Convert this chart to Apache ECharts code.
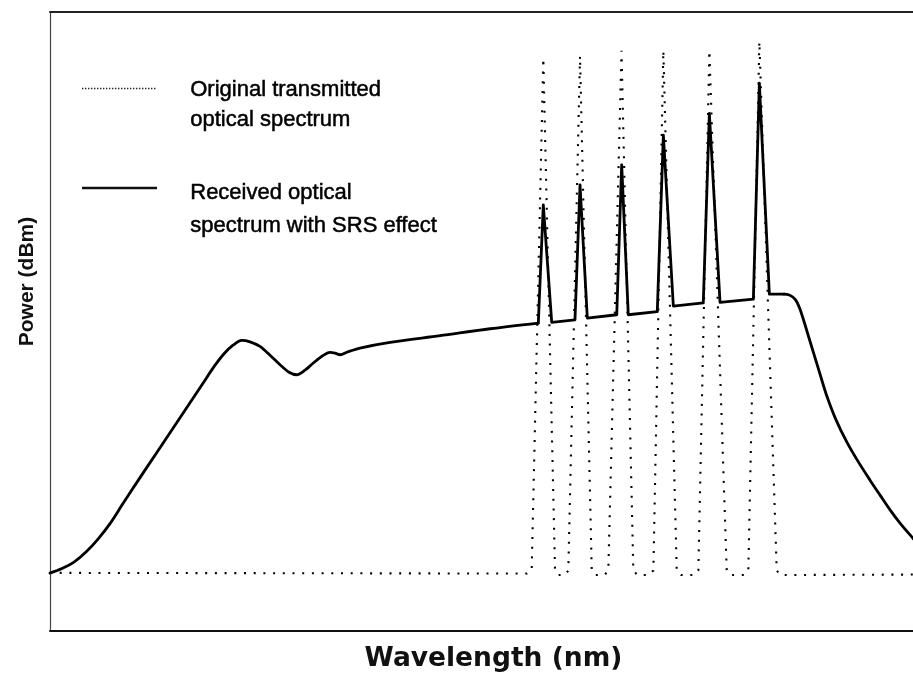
<!DOCTYPE html>
<html>
<head>
<meta charset="utf-8">
<title>SRS effect on optical spectrum</title>
<script src="https://cdn.jsdelivr.net/npm/echarts@6/dist/echarts.min.js"></script>
<style>
  html, body { margin: 0; padding: 0; background: #fff; }
  #chart { width: 913px; height: 681px; }
</style>
</head>
<body>
<div id="chart"></div>
<script>
// Wavelength axis in relative units (0 = left edge of the band)
// Power axis in relative units (0 = bottom, 100 = top)

// Original transmitted spectrum: flat floor with six narrow channels
const origX = [0, 54.95, 55.49, 56.83, 58.18, 58.58, 59.33, 59.71, 61.06, 62.41, 62.85, 63.88,
  64.32, 65.84, 67.20, 67.68, 69.01, 69.51, 70.66, 72.20, 72.70, 74.19,
  74.69, 75.96, 77.96, 78.46, 79.95, 80.45, 81.72, 83.72, 84.16, 100];
const origY = [9.39, 9.28, 9.77, 92.53, 9.77, 9.04, 9.04, 9.77, 92.9, 9.77, 9.04, 9.04,
  9.77, 93.75, 9.77, 9.04, 9.04, 9.77, 93.75, 9.77, 9.04, 9.04,
  9.77, 93.75, 9.77, 9.04, 9.04, 9.77, 95.21, 9.77, 9.04, 9.12];

// Received spectrum with SRS: smooth ASE-like rise up to the first channel
const rxRiseX = [0, 1.382, 2.765, 4.147, 5.530, 6.912, 8.295, 10.369, 12.212, 14.171, 16.129,
  17.627, 18.894, 20.046, 21.083, 22.085, 23.041, 24.194, 25.346, 26.498, 27.535, 28.422,
  29.378, 30.334, 31.336, 32.258, 32.834, 33.410, 34.332, 35.714, 39.171, 44.931, 50.691, 56.256];
const rxRiseY = [9.36, 10.09, 11.14, 12.75, 14.85, 17.35, 20.34, 24.78, 28.65, 32.77, 36.88,
  40.03, 42.70, 44.79, 46.17, 46.95, 46.72, 45.97, 44.55, 43.02, 41.81, 41.40,
  42.13, 43.29, 44.39, 45.00, 44.88, 44.63, 45.12, 45.71, 46.62, 47.70, 48.83, 49.75];

// Received channel peaks (tilted by SRS)
const rxPeakX = [56.256, 56.83, 57.80, 60.48, 61.06, 61.90, 65.29, 65.86, 66.62, 69.96, 70.66, 71.81,
  75.26, 75.96, 77.19, 81.03, 81.72, 82.87, 84.562];
const rxPeakY = [49.75, 68.85, 49.85, 50.28, 72.07, 50.56, 51.09, 75.3, 51.09, 51.6, 80.1, 52.5,
  53.0, 83.6, 53.1, 53.6, 88.5, 54.43, 54.43];

// Received roll-off beyond the last channel
const rxFallX = [84.562, 85.081, 85.634, 86.026, 86.406, 86.786, 87.327, 87.938, 88.710, 89.482,
  90.553, 91.786, 93.088, 94.470, 95.622, 96.774, 97.926, 99.343, 100];
const rxFallY = [54.43, 54.32, 53.87, 53.19, 51.98, 50.36, 47.86, 45.04, 41.49, 38.01,
  34.10, 30.55, 27.40, 24.37, 21.95, 19.56, 17.43, 15.09, 14.04];

// Visible part of the wavelength band
const xMin = 0;
const xMax = 99.42;

const legendNames = [
  ['Original transmitted', 'optical spectrum'],
  ['Received optical', 'spectrum with SRS effect']
];
const xTitle = 'Wavelength (nm)';
const yTitle = 'Power (dBm)';

const zip = (xs, ys) => xs.map((x, i) => [x, ys[i]]);

const solidStyle = { color: '#000', width: 2.8, type: 'solid', cap: 'round', join: 'round' };
const dotStyle = { color: '#000', width: 2.1, type: [2, 7.7], cap: 'butt' };
const legendFont = '22px "Liberation Sans", Arial, sans-serif';

const hidden = { show: false };

const chart = echarts.init(document.getElementById('chart'), null, { renderer: 'canvas' });

chart.setOption({
  animation: false,
  backgroundColor: '#fff',
  grid: { left: 50, right: 0, top: 12, bottom: 50, show: false },
  xAxis: [
    {
      type: 'value', min: xMin, max: xMax, position: 'bottom',
      axisLine: { show: true, onZero: false, lineStyle: { color: '#111', width: 2 } },
      axisTick: hidden, axisLabel: hidden, splitLine: hidden,
      name: xTitle, nameLocation: 'middle', nameGap: 15,
      nameTextStyle: {
        fontFamily: 'DejaVu Sans', fontWeight: 'bold', fontSize: 26.5, color: '#111',
        verticalAlign: 'top', padding: [0, 0, 0, 24]
      }
    },
    {
      type: 'value', min: xMin, max: xMax, position: 'top',
      axisLine: { show: true, onZero: false, lineStyle: { color: '#222', width: 2 } },
      axisTick: hidden, axisLabel: hidden, splitLine: hidden
    }
  ],
  yAxis: {
    type: 'value', min: 0, max: 100,
    axisLine: { show: true, onZero: false, lineStyle: { color: '#444', width: 1.2 } },
    axisTick: hidden, axisLabel: hidden, splitLine: hidden,
    name: yTitle, nameLocation: 'middle', nameGap: 12,
    nameTextStyle: {
      fontFamily: 'Liberation Sans', fontWeight: 'bold', fontSize: 21, color: '#111',
      verticalAlign: 'bottom', padding: [0, 0, 0, 80]
    }
  },
  series: [
    { name: 'Original', type: 'line', symbol: 'none', data: zip(origX, origY), lineStyle: dotStyle, z: 2 },
    { name: 'Received', type: 'line', symbol: 'none', smooth: 0.3,
      data: zip(rxRiseX, rxRiseY), lineStyle: solidStyle, z: 3 },
    { name: 'Received', type: 'line', symbol: 'none', data: zip(rxPeakX, rxPeakY), lineStyle: solidStyle, z: 3 },
    { name: 'Received', type: 'line', symbol: 'none', smooth: 0.3,
      data: zip(rxFallX, rxFallY), lineStyle: solidStyle, z: 3 }
  ],
  graphic: [
    { type: 'line', shape: { x1: 82, y1: 88.5, x2: 157, y2: 88.5 },
      style: { stroke: '#222', lineWidth: 1.6, lineDash: [1.4, 1.6] } },
    { type: 'text', left: 190, top: 75,
      style: { text: legendNames[0].join('\n'), font: legendFont, fill: '#000',
        stroke: '#000', lineWidth: 0.5, lineHeight: 30 } },
    { type: 'line', shape: { x1: 82, y1: 188, x2: 157, y2: 188 },
      style: { stroke: '#111', lineWidth: 2.4 } },
    { type: 'text', left: 190, top: 176,
      style: { text: legendNames[1].join('\n'), font: legendFont, fill: '#000',
        stroke: '#000', lineWidth: 0.5, lineHeight: 33 } }
  ]
});
</script>
</body>
</html>
